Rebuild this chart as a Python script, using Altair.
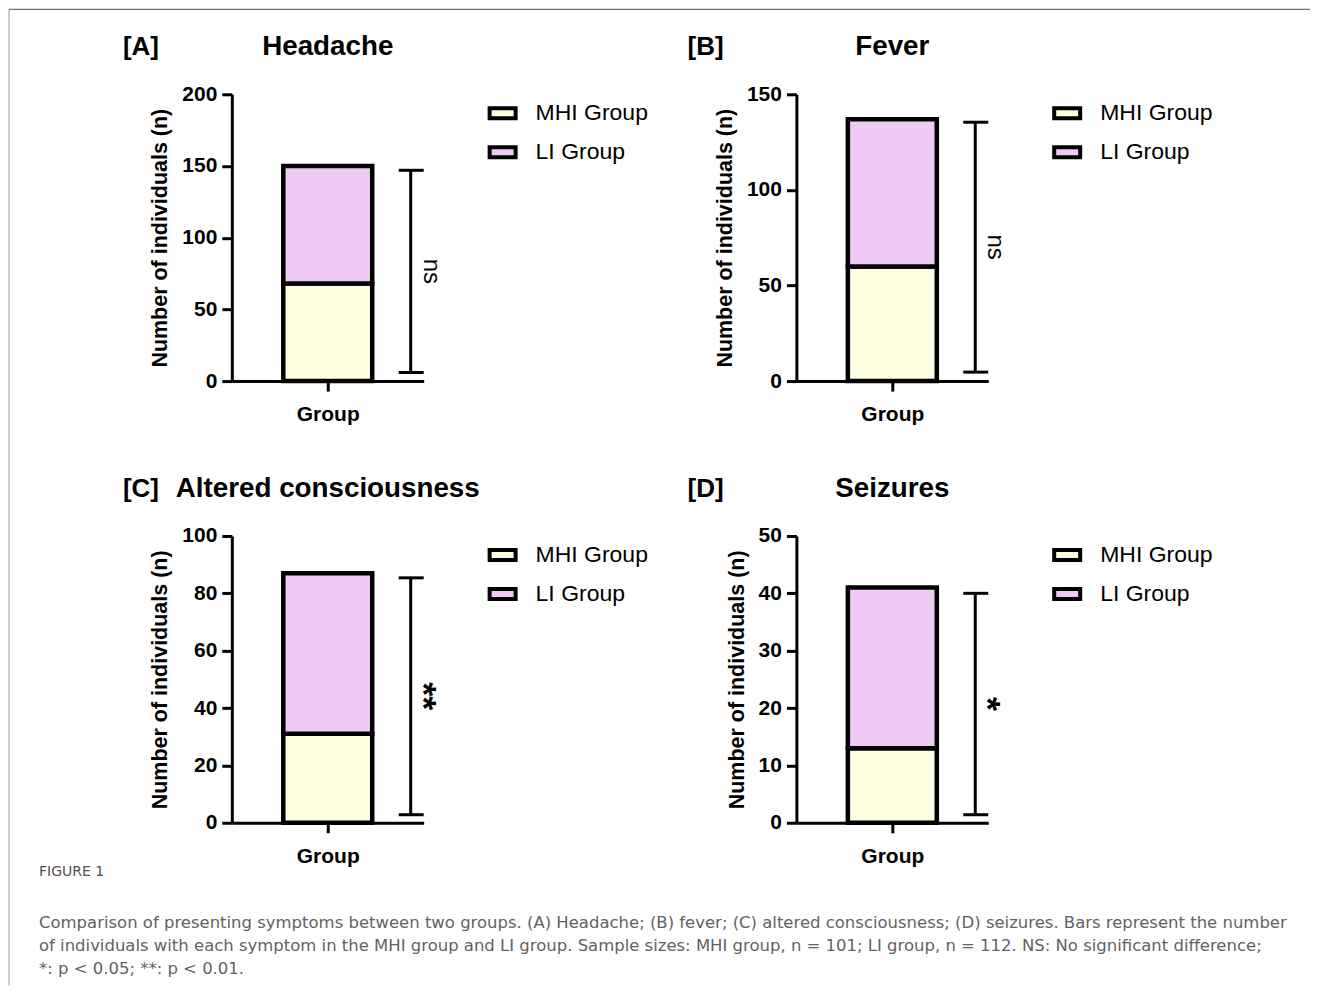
import altair as alt
import pandas as pd

# ---------------- data ----------------
symptoms = ["Headache", "Fever", "Altered consciousness", "Seizures"]
panel_tags = ["[A]", "[B]", "[C]", "[D]"]
mhi_counts = [68, 60, 31, 13]
li_counts = [82, 77, 56, 28]
y_max = [200, 150, 100, 50]
y_ticks = [[0, 50, 100, 150, 200], [0, 50, 100, 150],
           [0, 20, 40, 60, 80, 100], [0, 10, 20, 30, 40, 50]]
sig_labels = ["ns", "ns", "**", "*"]
bracket_low = [6, 4.7, 2.8, 1.4]
bracket_high = [147, 135.4, 85.4, 40]
series_names = ["MHI Group", "LI Group"]
series_colors = ["#FEFEE0", "#EFCAF5"]
caption_head = ["FIGURE 1"]
caption_lines = [
    "Comparison of presenting symptoms between two groups. (A) Headache; (B) fever; (C) altered consciousness; (D) seizures. Bars represent the number",
    "of individuals with each symptom in the MHI group and LI group. Sample sizes: MHI group, n = 101; LI group, n = 112. NS: No significant difference;",
    "*: p < 0.05; **: p < 0.01.",
]

FONT = "Liberation Sans"
W, H = 192, 287


def panel(i):
    yscale = alt.Scale(domain=[0, y_max[i]], nice=False, zero=True)
    y_axis = alt.Axis(values=y_ticks[i], title="Number of individuals (n)",
                      grid=False, tickSize=10, tickWidth=3, tickColor="black",
                      domainColor="black", domainWidth=3,
                      labelFont=FONT, labelFontSize=21, labelFontWeight="bold",
                      labelColor="black", labelPadding=5,
                      titleFont=FONT, titleFontSize=21.5, titleFontWeight="bold",
                      titleColor="black", titlePadding=10)
    bars_df = pd.DataFrame({
        "grp": ["Group", "Group"],
        "series": series_names,
        "count": [mhi_counts[i], li_counts[i]],
        "order": [0, 1],
    })
    bars = alt.Chart(bars_df).mark_bar(width=89, stroke="black", strokeWidth=4.5).encode(
        x=alt.X("grp:N", title="Group",
                scale=alt.Scale(paddingInner=0.1, paddingOuter=0.05),
                axis=alt.Axis(labels=False, ticks=True, tickSize=10, tickWidth=3,
                              tickColor="black", domainColor="black", domainWidth=3,
                              titleFont=FONT, titleFontSize=21, titleFontWeight="bold",
                              titleColor="black", titlePadding=11, grid=False)),
        y=alt.Y("count:Q", stack="zero", scale=yscale, axis=y_axis),
        color=alt.Color("series:N",
                        scale=alt.Scale(domain=series_names, range=series_colors),
                        legend=alt.Legend(orient="none", legendX=256, legendY=4,
                                          title=None, padding=0,
                                          symbolType="M-1,-0.385H1V0.385H-1Z",
                                          symbolSize=676, symbolStrokeColor="black",
                                          symbolStrokeWidth=4, symbolOpacity=1,
                                          labelFont=FONT, labelFontSize=23,
                                          labelColor="black", labelOffset=18,
                                          rowPadding=10)),
        order=alt.Order("order:Q", sort="ascending"),
    )

    lo, hi = bracket_low[i], bracket_high[i]
    br_df = pd.DataFrame({"lo": [lo], "hi": [hi], "mid": [(lo + hi) / 2],
                          "sig": [sig_labels[i]]})
    base = alt.Chart(br_df)
    vline = base.mark_rule(color="black", strokeWidth=3).encode(
        x=alt.value(179), y=alt.Y("lo:Q", scale=yscale, axis=y_axis), y2="hi:Q")
    cap_lo = base.mark_rule(color="black", strokeWidth=3).encode(
        x=alt.value(167), x2=alt.value(192), y=alt.Y("lo:Q", scale=yscale, axis=y_axis))
    cap_hi = base.mark_rule(color="black", strokeWidth=3).encode(
        x=alt.value(167), x2=alt.value(192), y=alt.Y("hi:Q", scale=yscale, axis=y_axis))
    if sig_labels[i] == "ns":
        sig = base.mark_text(font=FONT, fontSize=24, angle=90, align="center",
                             baseline="middle", color="black").encode(
            x=alt.value(199), y=alt.Y("mid:Q", scale=yscale, axis=y_axis), text="sig:N")
    else:
        sig = base.mark_text(font=FONT, fontSize=36, fontWeight="bold", angle=90,
                             align="center", baseline="middle", color="black").encode(
            x=alt.value(191), y=alt.Y("mid:Q", scale=yscale, axis=y_axis), text="sig:N")

    t_df = pd.DataFrame({"tag": [panel_tags[i]], "title": [symptoms[i]]})
    tag = alt.Chart(t_df).mark_text(font=FONT, fontSize=26, fontWeight="bold",
                                    align="left", baseline="middle", color="black").encode(
        x=alt.value(-109), y=alt.value(-47), text="tag:N")
    ttl = alt.Chart(t_df).mark_text(font=FONT, fontSize=27.8, fontWeight="bold",
                                    align="center", baseline="middle", color="black").encode(
        x=alt.value(96), y=alt.value(-47), text="title:N")

    layers = [bars, vline, cap_lo, cap_hi, sig, tag, ttl]

    if i == 0:
        fr = alt.Chart(pd.DataFrame({"k": [0]}))
        top_line = fr.mark_rule(color="#707070", strokeWidth=1.5).encode(
            x=alt.value(-223), x2=alt.value(1079), y=alt.value(-85))
        left_line = fr.mark_rule(color="#9a9a9a", strokeWidth=1).encode(
            x=alt.value(-223), y=alt.value(-85), y2=alt.value(892))
        layers += [top_line, left_line]

    if i == 2:
        head = alt.Chart(pd.DataFrame({"t": caption_head})).mark_text(
            font="DejaVu Sans", fontSize=14, color="#505050",
            align="left", baseline="middle").encode(
            x=alt.value(-193), y=alt.value(336), text="t:N")
        layers.append(head)
        for k, line in enumerate(caption_lines):
            cl = alt.Chart(pd.DataFrame({"t": [line]})).mark_text(
                font="DejaVu Sans", fontSize=16.5, color="#626262",
                align="left", baseline="middle").encode(
                x=alt.value(-193), y=alt.value(387 + 23 * k), text="t:N")
            layers.append(cl)

    return alt.layer(*layers).properties(width=W, height=H)


chart = alt.concat(
    panel(0), panel(1), panel(2), panel(3),
    columns=2, spacing={"row": 155, "column": 373}, bounds="flush",
).resolve_scale(
    color="independent", y="independent"
).properties(padding=0).configure_view(stroke=None)

chart.save("out.html", embed_options={"renderer": "svg", "actions": False})
